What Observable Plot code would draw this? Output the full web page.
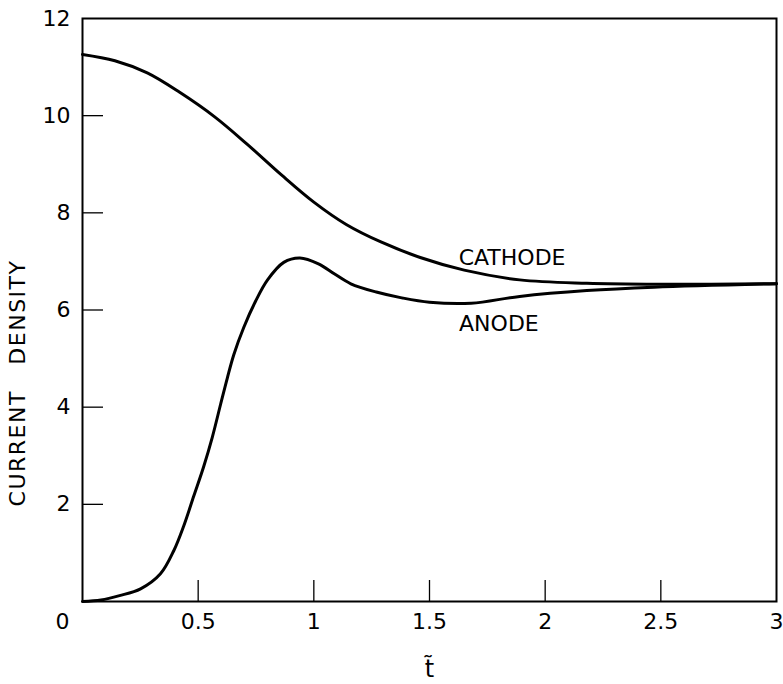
<!DOCTYPE html>
<html>
<head>
<meta charset="utf-8">
<script src="https://cdn.jsdelivr.net/npm/d3@7"></script>
<script src="https://cdn.jsdelivr.net/npm/@observablehq/plot@0.6"></script>
<style>
  html, body { margin: 0; padding: 0; background: #fff; }
</style>
</head>
<body>
<div id="chart"></div>
<script>
// Cathode current density vs dimensionless time
const cathodeT = [0, 0.14, 0.28, 0.42, 0.57, 0.71, 0.86, 1.0, 1.14, 1.29, 1.46, 1.65, 1.89, 2.18, 2.5, 3.0];
const cathodeV = [11.26, 11.13, 10.88, 10.48, 9.98, 9.42, 8.78, 8.22, 7.76, 7.40, 7.08, 6.82, 6.62, 6.55, 6.53, 6.54];

// Anode current density vs dimensionless time
const anodeT = [0, 0.08, 0.16, 0.251, 0.337, 0.395, 0.438, 0.481, 0.524, 0.561, 0.597, 0.626, 0.654, 0.697, 0.748, 0.80, 0.87, 0.94, 1.02, 1.09, 1.16, 1.27, 1.38, 1.50, 1.68, 1.89, 2.18, 2.47, 3.0];
const anodeV = [0, 0.03, 0.12, 0.26, 0.57, 1.05, 1.56, 2.17, 2.78, 3.38, 4.06, 4.60, 5.08, 5.64, 6.18, 6.62, 6.98, 7.07, 6.95, 6.74, 6.54, 6.37, 6.25, 6.16, 6.14, 6.28, 6.40, 6.47, 6.54];

// Axis ticks
const xTickLabels = [0.5, 1, 1.5, 2, 2.5, 3];
const xInnerTicks = [0.5, 1, 1.5, 2, 2.5];
const yTickLabels = [2, 4, 6, 8, 10, 12];
const yInnerTicks = [2, 4, 6, 8, 10];
const cornerLabel = [0];

// Curve labels
const curveLabels = ["CATHODE", "ANODE"];
const curveLabelT = [1.857, 1.80];
const curveLabelV = [7.08, 5.72];

const yLabel = "CURRENT DENSITY";
const xLabel = "t\u0303";

const cathode = cathodeT.map((t, i) => ({t, v: cathodeV[i]}));
const anode = anodeT.map((t, i) => ({t, v: anodeV[i]}));
const labels = curveLabels.map((name, i) => ({name, t: curveLabelT[i], v: curveLabelV[i]}));

const W = 783, H = 684;
const mL = 82, mR = 7, mT = 18, mB = 83;
const plotW = W - mL - mR, plotH = H - mT - mB;
const tickLen = 21;

const chart = Plot.plot({
  width: W,
  height: H,
  marginLeft: mL,
  marginRight: mR,
  marginTop: mT,
  marginBottom: mB,
  style: {fontFamily: "DejaVu Sans", fontSize: "22px", background: "#fff", color: "#000"},
  x: {domain: [0, 3]},
  y: {domain: [0, 12]},
  marks: [
    Plot.frame({stroke: "#000", strokeWidth: 2}),
    Plot.ruleX(xInnerTicks, {x: d => d, insetTop: plotH - tickLen, stroke: "#000", strokeWidth: 1.3}),
    Plot.ruleY(yInnerTicks, {y: d => d, insetRight: plotW - tickLen, stroke: "#000", strokeWidth: 1.3}),
    Plot.axisX(xTickLabels, {tickSize: 0, tickPadding: 12, label: null, fontSize: 22, tickFormat: d => String(d)}),
    Plot.axisY(yTickLabels, {tickSize: 0, tickPadding: 12, label: null, fontSize: 22, tickFormat: d => String(d)}),
    Plot.text(cornerLabel, {x: d => d, frameAnchor: "bottom", lineAnchor: "top", dy: 12, dx: -20, text: d => String(d), fontSize: 22}),
    Plot.line(cathode, {x: "t", y: "v", curve: "catmull-rom", stroke: "#000", strokeWidth: 3}),
    Plot.line(anode, {x: "t", y: "v", curve: "catmull-rom", stroke: "#000", strokeWidth: 3}),
    Plot.text(labels, {x: "t", y: "v", text: "name", fontSize: 22}),
    Plot.text([yLabel], {frameAnchor: "left", textAnchor: "middle", dx: -65, dy: 73, rotate: -90, fontSize: 22, text: d => d.replace(" ", "\u00a0\u00a0\u00a0")}),
    Plot.text([xLabel], {frameAnchor: "bottom", dy: 68, lineAnchor: "middle", fontSize: 24, text: d => d})
  ]
});
d3.select(chart).selectAll("text")
  .filter(function() { return this.textContent.startsWith("CURRENT"); })
  .style("letter-spacing", "1.5px");
document.getElementById("chart").appendChild(chart);
</script>
</body>
</html>
